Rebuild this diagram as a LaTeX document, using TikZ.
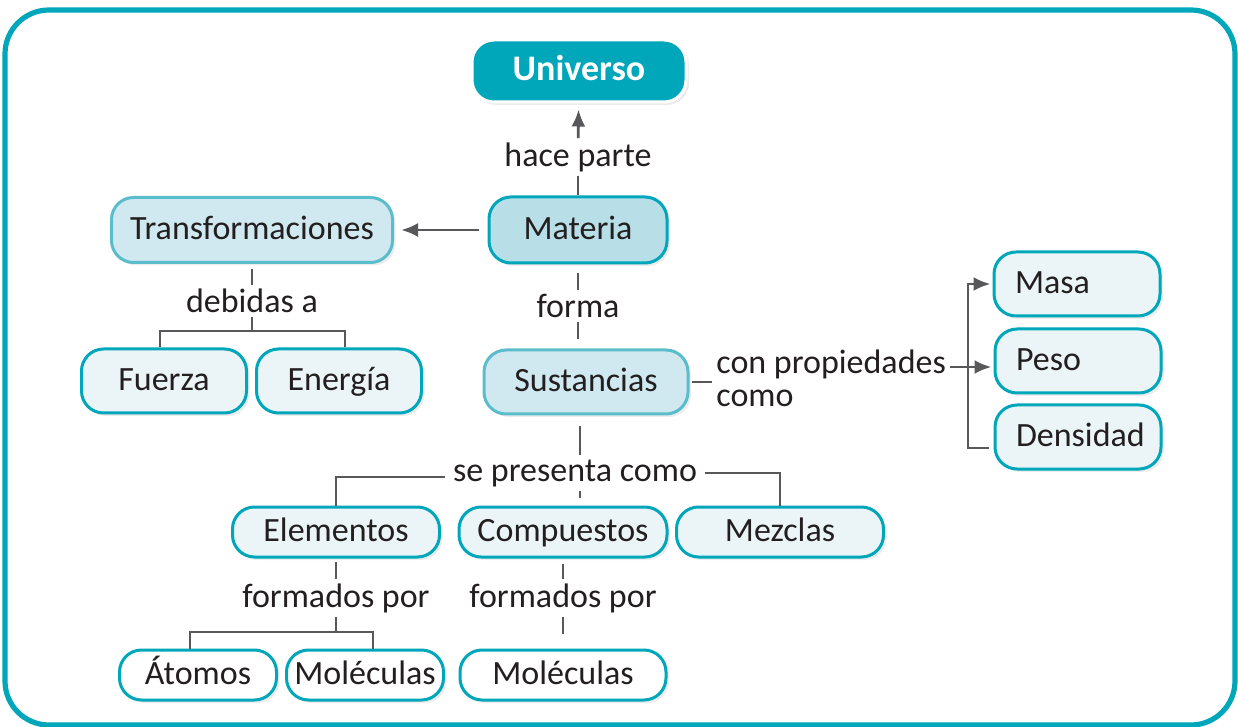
\documentclass[tikz,border=0pt]{standalone}
\usepackage{fontspec}
\setmainfont{Carlito}
\usetikzlibrary{arrows.meta,positioning,shadows}
\definecolor{tealdark}{RGB}{0,166,186}
\definecolor{tealsoft}{RGB}{90,189,204}
\definecolor{matfill}{RGB}{184,223,231}
\definecolor{trafill}{RGB}{208,232,239}
\definecolor{boxlight}{RGB}{235,245,248}
\definecolor{linegray}{RGB}{88,88,90}
\definecolor{ink}{RGB}{35,31,32}

\begin{document}
\begin{tikzpicture}[x=0.5pt, y=-0.5pt, main node/.style={rectangle,rounded corners=11pt,draw=tealdark,line width=1.5pt,fill=boxlight,text=ink,minimum height=32pt,inner sep=0pt,text height=12pt,text depth=2.5pt,font=\fontsize{17}{20}\selectfont,drop shadow={opacity=0.15,shadow xshift=1.5pt,shadow yshift=-1.5pt}}, link/.style={inner sep=2pt,text=ink,font=\fontsize{17}{20}\selectfont}, conn/.style={draw=linegray,line width=1.4pt}, arr/.style={conn,-{Latex[length=8.5pt,width=7pt]}}]%
\useasboundingbox (0,0) rectangle (1238,727);
\draw[line width=2.6pt, draw=tealdark, rounded corners=22pt] (5,10) rectangle (1235,725);
\begin{scope}[every node/.style={main node}]
\node[fill=tealdark, draw=white, text=white, font=\fontsize{18}{20}\selectfont\bfseries, minimum width=107pt, minimum height=31pt] (vU) at (579,71) {Universo};
\node[fill=matfill, minimum width=89pt, minimum height=33pt] (vM) at (578,230) {Materia};
\node[fill=trafill, draw=tealsoft, minimum width=140.5pt, minimum height=32.5pt] (vT) at (252,230) {Transformaciones};
\node[minimum width=82.5pt] (vF) at (164,381) {Fuerza};
\node[minimum width=82.5pt] (vE) at (339,381) {Energía};
\node[fill=trafill, draw=tealsoft, minimum width=102pt] (vS) at (586,382) {Sustancias};
\node[text width=62pt, inner xsep=10.5pt, align=left] (vMa) at (1077,284) {Masa};
\node[text width=62pt, inner xsep=10.5pt, align=left] (vP) at (1078,361) {Peso};
\node[text width=62pt, inner xsep=10.5pt, align=left] (vD) at (1078,437) {Densidad};
\node[minimum width=103.5pt, minimum height=25pt] (vEl) at (336,532) {Elementos};
\node[minimum width=104pt, minimum height=25pt] (vC) at (563,532) {Compuestos};
\node[minimum width=103.5pt, minimum height=25pt] (vMz) at (780,532) {Mezclas};
\node[fill=white, minimum width=78.5pt, minimum height=25pt] (vA) at (198,675) {Átomos};
\node[fill=white, minimum width=78.5pt, minimum height=25pt] (vMo) at (365,675) {Moléculas};
\node[fill=white, minimum width=103pt, minimum height=25pt] (vMc) at (563,675) {Moléculas};
\end{scope}
\begin{scope}[every node/.style={link}]
\node (lHace) at (578,157) {hace parte};
\node (lDeb) at (252,301) {debidas a};
\node (lForma) at (578,306) {forma};
\node[anchor=west, align=left, font=\fontsize{17}{16.5}\selectfont] (lProp) at (712,378) {con propiedades\\como};
\node[inner xsep=4pt] (lPres) at (575,473) {se presenta como};
\node (lFor1) at (336,598) {formados por};
\node (lFor2) at (563,598) {formados por};
\end{scope}
\coordinate (jD) at (252,331);
\coordinate (jS) at (580,476);
\coordinate (jP) at (968,367);
\coordinate (jF) at (336,632);
\draw[conn] (vM) -- (lHace);
\draw[arr, shorten >=3pt] (lHace) -- (vU);
\draw[arr, shorten <=4.5pt, shorten >=3.5pt] (vM) -- (vT);
\draw[conn, shorten <=2.5pt] (vT) -- (lDeb);
\draw[conn] (lDeb) -- (jD);
\draw[conn] ([xshift=-2pt]vF.north) |- (jD) -| ([xshift=3pt]vE.north);
\draw[conn, shorten <=4.5pt] (vM) -- (lForma);
\draw[conn, shorten >=4.5pt] (lForma) -- (lForma |- vS.north);
\draw[conn, shorten <=1pt] (vS.east) -- (vS.east -| lProp.west);
\draw[arr, shorten >=1pt] (lProp.east |- jP) -- (jP -| vP.west);
\draw[arr, shorten <=2.5pt, shorten >=1pt] ([yshift=-5.5pt]vD.west) -| (jP) |- (vMa);
\draw[conn, shorten <=5.5pt] (vS.south -| jS) -- (jS |- lPres.north);
\draw[conn, shorten >=4pt] (jS |- lPres.south) -- (jS |- vC.north);
\draw[conn] ([yshift=-2pt]lPres.west) -| (vEl.north);
\draw[conn] (lPres.east) -| (vMz.north);
\draw[conn, shorten <=1.5pt] (vEl) -- (lFor1);
\draw[conn] (lFor1) -- (jF);
\draw[conn] ([xshift=-4pt]vA.north) |- (jF) -| ([xshift=4pt]vMo.north);
\draw[conn, shorten <=2.5pt] (vC) -- (lFor2);
\draw[conn, shorten >=7.5pt] (lFor2) -- (vMc);
\end{tikzpicture}
\end{document}
